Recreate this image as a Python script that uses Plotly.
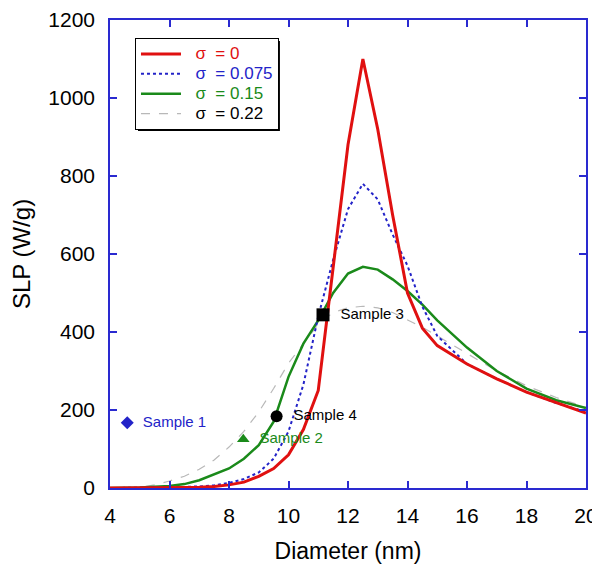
import plotly.graph_objects as go

# ---- data ----
diam_red = [4, 5, 6, 6.5, 7, 7.5, 8, 8.5, 9, 9.5, 10, 10.5, 11, 11.5, 12, 12.5, 13, 13.5, 14, 14.5, 15, 16, 17, 18, 19, 20]
slp_s0 = [0, 0, 0.5, 1, 2, 4, 8, 15, 30, 50, 85, 150, 250, 560, 880, 1100, 920, 700, 500, 410, 365, 318, 280, 246, 218, 192]

diam_blue = [4, 5, 6, 7, 7.5, 8, 8.5, 9, 9.5, 10, 10.5, 11, 11.5, 12, 12.5, 13, 13.5, 14, 14.5, 15, 16, 17, 18, 19, 20]
slp_s075 = [0, 0.5, 1.5, 4, 7, 13, 23, 40, 75, 145, 265, 440, 585, 715, 780, 740, 650, 570, 465, 390, 318, 280, 246, 218, 195]

diam_green = [4, 5, 6, 6.5, 7, 7.5, 8, 8.5, 9, 9.5, 10, 10.5, 11, 11.5, 12, 12.5, 13, 13.5, 14, 14.5, 15, 16, 17, 18, 19, 20]
slp_s15 = [0, 1, 5, 10, 20, 35, 50, 75, 110, 170, 285, 370, 430, 500, 550, 567, 560, 535, 505, 470, 430, 360, 300, 255, 225, 205]

diam_gray = [4, 4.5, 5, 5.5, 6, 6.5, 7, 7.5, 8, 8.5, 9, 9.5, 10, 10.5, 11, 11.5, 12, 12.5, 13, 13.5, 14, 14.5, 15, 16, 17, 18, 19, 20]
slp_s22 = [0, 0.5, 2, 8, 18, 30, 48, 72, 105, 145, 195, 255, 320, 370, 420, 450, 462, 466, 462, 450, 432, 412, 390, 345, 300, 262, 232, 207]

sample_names = ["Sample 1", "Sample 2", "Sample 3", "Sample 4"]
sample_x = [4.58, 8.48, 11.16, 9.6]
sample_y = [167, 125, 444, 184]
sample_colors = ["#2323c8", "#1a8a1a", "black", "black"]
sample_symbols = ["diamond", "triangle-up", "square", "circle"]
sample_sizes = [10, 11, 13, 12]

x_ticks = [4, 6, 8, 10, 12, 14, 16, 18, 20]
y_ticks = [0, 200, 400, 600, 800, 1000, 1200]

AXIS = "#2a2ad0"
FONT = "Arial, Liberation Sans, sans-serif"
fig = go.Figure()

def lname(txt, color):
    return f"<span style='color:{color};font-size:17px'>\u00a0\u00a0{txt}</span>"

fig.add_trace(go.Scatter(x=diam_gray, y=slp_s22, mode="lines",
                         line=dict(color="#b8b8b8", width=1.2, dash="dash"),
                         name=lname("σ  = 0.22", "black"), legendrank=4))
fig.add_trace(go.Scatter(x=diam_green, y=slp_s15, mode="lines",
                         line=dict(color="#1a8a1a", width=2.5),
                         name=lname("σ  = 0.15", "#1a8a1a"), legendrank=3))
fig.add_trace(go.Scatter(x=diam_blue, y=slp_s075, mode="lines",
                         line=dict(color="#2323c8", width=2, dash="dot"),
                         name=lname("σ  = 0.075", "#2323c8"), legendrank=2))
fig.add_trace(go.Scatter(x=diam_red, y=slp_s0, mode="lines",
                         line=dict(color="#e01010", width=3),
                         name=lname("σ  = 0", "#e01010"), legendrank=1))

for n, x, y, c, s, sz in zip(sample_names, sample_x, sample_y, sample_colors, sample_symbols, sample_sizes):
    fig.add_trace(go.Scatter(x=[x], y=[y], mode="markers+text", text=["  " + n],
                             textposition="middle right",
                             textfont=dict(color=c, size=15, family=FONT),
                             marker=dict(symbol=s, color=c, size=sz), showlegend=False))

axis_common = dict(showline=True, linecolor=AXIS, linewidth=1.5, mirror="ticks",
                   ticks="inside", ticklen=7, tickcolor=AXIS, tickwidth=1.5,
                   showgrid=False, zeroline=False, automargin=False,
                   ticklabeloverflow="allow",
                   tickfont=dict(size=21, color="black", family=FONT))

fig.update_xaxes(range=[4, 20], tickvals=x_ticks, ticklabelstandoff=8,
                 title=dict(text="Diameter (nm)", font=dict(size=23, color="black", family=FONT), standoff=17),
                 **axis_common)
fig.update_yaxes(range=[0, 1200], tickvals=y_ticks, ticklabelstandoff=9,
                 title=dict(text="SLP (W/g)", font=dict(size=24, color="black", family=FONT), standoff=25),
                 **axis_common)

# page body adds an 8px offset, so the figure is 8px smaller and shifted
fig.update_layout(
    width=592, height=560,
    margin=dict(l=102, r=14, t=12, b=80, autoexpand=False),
    plot_bgcolor="white", paper_bgcolor="white",
    showlegend=True,
    legend=dict(x=0.0525, y=0.9615, xanchor="left", yanchor="top",
                bgcolor="white", bordercolor="black", borderwidth=1,
                font=dict(size=13, family=FONT),
                tracegroupgap=0, itemwidth=40),
    shapes=[dict(type="rect", xref="paper", yref="paper",
                 x0=0.0588, x1=0.357, y0=0.763, y1=0.955,
                 fillcolor="black", line=dict(width=0), layer="above")],
)

fig.write_html("out.html")
